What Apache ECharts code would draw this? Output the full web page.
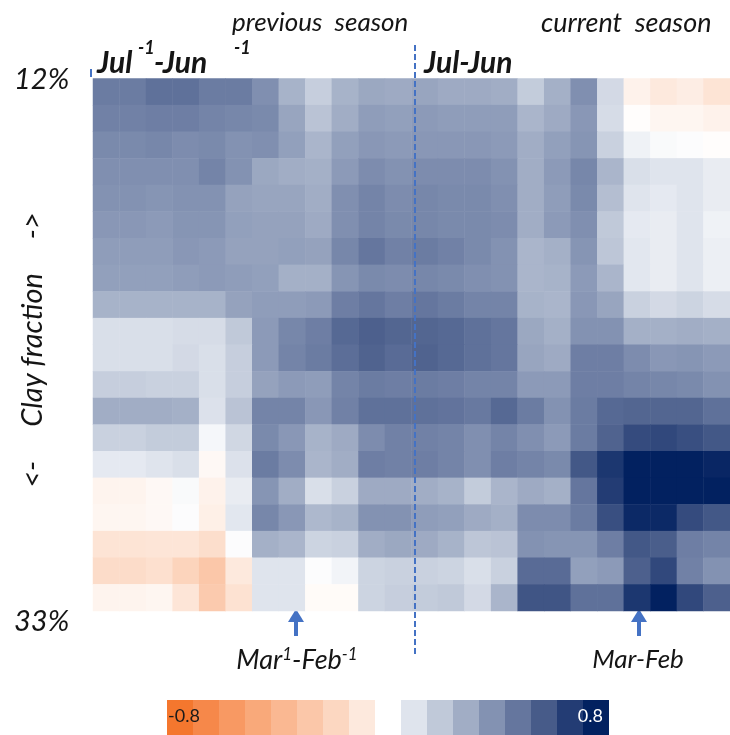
<!DOCTYPE html>
<html><head><meta charset="utf-8">
<script src="https://cdn.jsdelivr.net/npm/echarts@6/dist/echarts.min.js"></script>
<style>html,body{margin:0;padding:0;background:#fff}#c{width:730px;height:735px}</style>
</head><body><div id="c"></div>
<script>
// x categories: 12 months of previous season + 12 months of current season
const prevMonths = ['Jul-1','Aug-1','Sep-1','Oct-1','Nov-1','Dec-1','Jan-1','Feb-1','Mar-1','Apr-1','May-1','Jun-1'];
const currMonths = ['Jul','Aug','Sep','Oct','Nov','Dec','Jan','Feb','Mar','Apr','May','Jun'];
// y categories: clay fraction classes (top 12% ... bottom 33%)
const clayRows = ['c01','c02','c03','c04','c05','c06','c07','c08','c09','c10','c11','c12','c13','c14','c15','c16','c17','c18','c19','c20'];
// legend values
const legendValues = [-0.8,-0.7,-0.6,-0.5,-0.4,-0.3,-0.2,-0.1,0,0.1,0.2,0.3,0.4,0.5,0.6,0.7,0.8];
const legendColors = ['#f4772e','#f6884a','#f89963','#f9a97a','#fab892','#fbc7a9','#fcd7c1','#fde9dd','#ffffff','#dfe4ed','#c0c9d9','#a1adc5','#8392b2','#65769e','#475b89','#233c74','#022160'];

// correlation values per clay row (24 columns each)
const row01 = [0.48,0.48,0.52,0.52,0.48,0.48,0.41,0.28,0.18,0.28,0.32,0.31, 0.33,0.31,0.31,0.30,0.19,0.29,0.41,0.14,-0.06,-0.10,-0.08,-0.13];
const row02 = [0.46,0.46,0.47,0.47,0.45,0.44,0.43,0.33,0.22,0.30,0.36,0.35, 0.37,0.36,0.36,0.36,0.27,0.31,0.38,0.13,-0.01,-0.04,-0.04,-0.06];
const row03 = [0.43,0.43,0.44,0.42,0.43,0.40,0.41,0.35,0.27,0.35,0.38,0.37, 0.38,0.38,0.38,0.37,0.30,0.35,0.39,0.17,0.05,0.02,0.01,-0.01];
const row04 = [0.41,0.41,0.41,0.41,0.45,0.40,0.32,0.30,0.29,0.37,0.42,0.40, 0.42,0.42,0.42,0.40,0.30,0.37,0.44,0.27,0.12,0.10,0.10,0.07];
const row05 = [0.40,0.40,0.39,0.40,0.40,0.34,0.33,0.33,0.30,0.41,0.45,0.42, 0.44,0.43,0.43,0.41,0.30,0.36,0.43,0.24,0.10,0.08,0.10,0.07];
const row06 = [0.38,0.38,0.37,0.39,0.39,0.35,0.34,0.34,0.31,0.41,0.45,0.43, 0.44,0.43,0.43,0.42,0.30,0.37,0.41,0.20,0.08,0.07,0.10,0.05];
const row07 = [0.36,0.36,0.36,0.38,0.37,0.34,0.34,0.35,0.34,0.44,0.50,0.46, 0.48,0.46,0.43,0.40,0.27,0.29,0.39,0.21,0.09,0.07,0.10,0.06];
const row08 = [0.35,0.35,0.35,0.36,0.37,0.36,0.35,0.29,0.29,0.39,0.43,0.42, 0.44,0.43,0.41,0.40,0.27,0.28,0.37,0.27,0.09,0.07,0.10,0.06];
const row09 = [0.28,0.28,0.28,0.28,0.28,0.34,0.36,0.36,0.37,0.47,0.50,0.47, 0.50,0.48,0.45,0.45,0.28,0.27,0.38,0.33,0.17,0.14,0.16,0.13];
const row10 = [0.12,0.12,0.12,0.13,0.13,0.20,0.37,0.44,0.47,0.55,0.58,0.56, 0.56,0.55,0.52,0.50,0.32,0.29,0.40,0.40,0.29,0.29,0.30,0.29];
const row11 = [0.12,0.12,0.12,0.14,0.12,0.18,0.37,0.45,0.48,0.53,0.57,0.54, 0.57,0.55,0.52,0.50,0.33,0.31,0.47,0.47,0.42,0.38,0.39,0.37];
const row12 = [0.18,0.18,0.17,0.17,0.12,0.18,0.34,0.37,0.36,0.45,0.48,0.47, 0.48,0.47,0.45,0.45,0.37,0.37,0.47,0.47,0.45,0.44,0.43,0.40];
const row13 = [0.30,0.30,0.30,0.29,0.11,0.22,0.45,0.45,0.38,0.46,0.52,0.52, 0.52,0.51,0.49,0.55,0.48,0.40,0.48,0.55,0.56,0.56,0.56,0.52];
const row14 = [0.17,0.17,0.19,0.19,0.03,0.15,0.43,0.38,0.28,0.31,0.42,0.46, 0.46,0.45,0.41,0.45,0.41,0.37,0.48,0.57,0.65,0.66,0.64,0.61];
const row15 = [0.08,0.08,0.10,0.12,-0.03,0.11,0.48,0.42,0.27,0.30,0.47,0.46, 0.47,0.45,0.41,0.47,0.45,0.43,0.61,0.72,0.80,0.80,0.80,0.78];
const row16 = [-0.05,-0.05,-0.03,0.02,-0.06,0.07,0.39,0.30,0.12,0.17,0.31,0.31, 0.30,0.28,0.19,0.27,0.31,0.29,0.50,0.70,0.80,0.80,0.80,0.80];
const row17 = [-0.04,-0.04,-0.03,0.01,-0.07,0.09,0.44,0.38,0.26,0.28,0.40,0.40, 0.36,0.35,0.31,0.29,0.42,0.42,0.48,0.64,0.77,0.77,0.65,0.61];
const row18 = [-0.13,-0.13,-0.12,-0.12,-0.16,0.01,0.29,0.27,0.16,0.17,0.30,0.32, 0.31,0.28,0.21,0.22,0.40,0.39,0.39,0.47,0.61,0.59,0.47,0.45];
const row19 = [-0.17,-0.17,-0.15,-0.22,-0.30,-0.10,0.10,0.10,0.01,0.04,0.16,0.17, 0.17,0.16,0.12,0.17,0.54,0.54,0.35,0.37,0.58,0.66,0.46,0.40];
const row20 = [-0.05,-0.05,-0.04,-0.12,-0.28,-0.14,0.10,0.10,-0.02,-0.02,0.16,0.18, 0.19,0.20,0.14,0.27,0.62,0.62,0.52,0.52,0.72,0.80,0.66,0.58];

const rows = [row01,row02,row03,row04,row05,row06,row07,row08,row09,row10,row11,row12,row13,row14,row15,row16,row17,row18,row19,row20];
const xCats = prevMonths.concat(currMonths);
const heat = [];
rows.forEach((r, yi) => r.forEach((v, xi) => heat.push([xi, yi, v])));

const chart = echarts.init(document.getElementById('c'), null, {renderer: 'canvas'});
const BLUE = '#4472c4';
const TXT = '#151515';
const FF = 'Lato, "Open Sans", sans-serif';

function txt(x, y, text, size, opts) {
  return Object.assign({
    type: 'text', x: x, y: y, z: 100,
    style: Object.assign({text: text, fill: TXT, fontSize: size, fontStyle: 'italic', fontFamily: FF,
      align: 'left', verticalAlign: 'middle'}, (opts && opts.style) || {})
  }, (opts && opts.el) || {});
}
function arrow(cx) {
  return {
    type: 'group', z: 100, children: [
      {type: 'polygon', shape: {points: [[cx, 609], [cx - 8, 622], [cx + 8, 622]]}, style: {fill: BLUE}},
      {type: 'rect', shape: {x: cx - 2, y: 620, width: 4, height: 16}, style: {fill: BLUE}}
    ]
  };
}

chart.setOption({
  animation: false,
  backgroundColor: '#fff',
  grid: {left: 93, top: 78.5, width: 643, height: 532.5, containLabel: false},
  xAxis: {type: 'category', data: xCats, show: false},
  yAxis: {type: 'category', data: clayRows, inverse: true, show: false},
  visualMap: [
    {type: 'continuous', show: false, seriesIndex: 0, min: -0.8, max: 0.8, inRange: {color: legendColors}},
    {type: 'piecewise', show: true, seriesIndex: 1, orient: 'horizontal', left: 167, top: 700,
      itemWidth: 26, itemHeight: 36, itemGap: 0, itemSymbol: 'rect', showLabel: false, textGap: 0,
      selectedMode: false, padding: 0,
      pieces: legendValues.map((v, i) => ({value: v, color: legendColors[i]}))}
  ],
  series: [
    {type: 'heatmap', data: heat, itemStyle: {borderWidth: 0}, emphasis: {disabled: true}},
    {type: 'scatter', data: [], symbolSize: 0}
  ],
  graphic: [
    // dashed season separators
    {type: 'line', z: 100, shape: {x1: 415, y1: 45, x2: 415, y2: 657}, style: {stroke: BLUE, lineWidth: 2, lineDash: [6, 3]}},
    {type: 'line', z: 100, shape: {x1: 91, y1: 69, x2: 91, y2: 77}, style: {stroke: BLUE, lineWidth: 2}},
    // season titles
    txt(232, 23, 'previous  season', 26),
    txt(541, 23, 'current  season', 27),
    txt(97, 63, 'Jul', 30, {style: {fontWeight: 'bold'}}),
    txt(138, 48, '-1', 18, {style: {fontWeight: 'bold'}}),
    txt(154, 63, '-Jun', 30, {style: {fontWeight: 'bold'}}),
    txt(234, 48, '-1', 18, {style: {fontWeight: 'bold'}}),
    txt(424, 63, 'Jul-Jun', 30, {style: {fontWeight: 'bold'}}),
    // y extremes
    txt(14, 80, '12%', 29),
    txt(14, 622, '33%', 29),
    txt(33, 350, '<-     Clay fraction     ->', 29, {style: {align: 'center'}, el: {rotation: Math.PI / 2}}),
    // arrows and month labels
    arrow(296),
    arrow(639),
    {type: 'text', x: 297, y: 660, z: 100, style: {
      text: '{m|Mar}{s|1}{m|-Feb}{s|-1}', align: 'center', verticalAlign: 'middle',
      rich: {
        m: {fontSize: 27, fontStyle: 'italic', fontFamily: FF, fill: TXT, color: TXT},
        s: {fontSize: 17, fontStyle: 'italic', fontFamily: FF, fill: TXT, color: TXT, verticalAlign: 'top', padding: [0, 0, 10, 0]}
      }}},
    txt(638, 660, 'Mar-Feb', 26, {style: {align: 'center'}}),
    // legend end labels
    {type: 'text', x: 168, y: 716, z: 100, style: {text: '-0.8', fill: '#1a1a1a', fontSize: 18, fontFamily: FF, align: 'left', verticalAlign: 'middle'}},
    {type: 'text', x: 603, y: 716, z: 100, style: {text: '0.8', fill: '#ffffff', fontSize: 18, fontFamily: FF, align: 'right', verticalAlign: 'middle'}}
  ]
});
</script></body></html>
